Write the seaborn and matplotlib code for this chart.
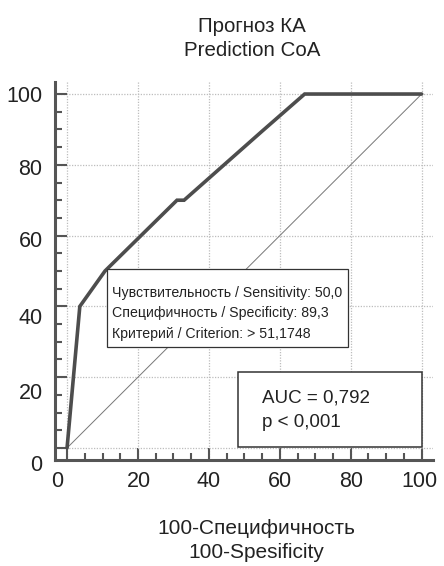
import matplotlib
matplotlib.use("Agg")
import matplotlib.pyplot as plt
import matplotlib.transforms as mtransforms
import seaborn as sns
import pandas as pd
from matplotlib.ticker import MultipleLocator, FixedLocator
from matplotlib.patches import Rectangle

# ROC curve vertices (100 - specificity, sensitivity), in percent
fpr = [0.0, 3.6, 10.7, 31.0, 33.0, 55.0, 67.0, 100.0]
tpr = [0.0, 40.0, 50.0, 70.0, 70.0, 89.5, 100.0, 100.0]
chance_x = [0, 100]
chance_y = [0, 100]
tick_values = [0, 20, 40, 60, 80, 100]

title_lines = ["Прогноз КА", "Prediction CoA"]
xlabel_lines = ["100-Специфичность", "100-Spesificity"]

# optimal cut-off point
sensitivity = 50.0
specificity = 89.3
criterion = 51.1748
auc_value = 0.792
p_label = "p < 0,001"

# small per-label nudges of the tick labels (pixels, down / left)
ytick_label_drop = [15, 14, 10, 3, 2.5, 0]
xtick_label_shift = [-9.5, 1, 0, 0, 0, -2]


def comma(v, nd):
    return f"{v:.{nd}f}".replace(".", ",")


sns.set_theme(style="white")
plt.rcParams["font.family"] = ["Liberation Sans", "DejaVu Sans"]

DARK = "#555555"
TEXT = "#222222"

fig = plt.figure(figsize=(4.44, 5.66), dpi=100)
ax = fig.add_axes([55 / 444, 1 - 460 / 566, (433 - 55) / 444, (460 - 82) / 566])

roc = pd.DataFrame({"fpr": fpr, "tpr": tpr})
ref = pd.DataFrame({"x": chance_x, "y": chance_y})

sns.lineplot(data=ref, x="x", y="y", ax=ax, color="#777777", lw=0.7,
             sort=False, estimator=None, zorder=2)
sns.lineplot(data=roc, x="fpr", y="tpr", ax=ax, color="#4d4d4d", lw=2.6,
             sort=False, estimator=None, zorder=3, solid_joinstyle="miter")

ax.set_xlim(-3.4, 103.2)
ax.set_ylim(-3.4, 103.4)

for axis in (ax.xaxis, ax.yaxis):
    axis.set_major_locator(FixedLocator(tick_values))
    axis.set_minor_locator(MultipleLocator(5))

ax.tick_params(which="both", left=True, bottom=True, direction="in", color=DARK)
ax.tick_params(which="major", length=8.6, width=1.5, labelsize=15.5, labelcolor=TEXT)
ax.tick_params(which="minor", length=5, width=1.5)
ax.tick_params(axis="y", pad=9)
ax.tick_params(axis="x", pad=8)

ax.grid(True, which="major", ls=(0, (1, 1.2)), color="#bdbdbd", lw=0.9, zorder=0)
ax.set_axisbelow(True)

for side in ("top", "right"):
    ax.spines[side].set_visible(False)
for side in ("left", "bottom"):
    ax.spines[side].set_color(DARK)
    ax.spines[side].set_linewidth(2.2)

ax.set_xlabel("")
ax.set_ylabel("")

px = 1 / fig.dpi  # one pixel in inches
for lab, dy in zip(ax.get_yticklabels(), ytick_label_drop):
    lab.set_transform(lab.get_transform() +
                      mtransforms.ScaledTranslation(0, -dy * px, fig.dpi_scale_trans))
for lab, dx in zip(ax.get_xticklabels(), xtick_label_shift):
    lab.set_transform(lab.get_transform() +
                      mtransforms.ScaledTranslation(dx * px, 0, fig.dpi_scale_trans))

# cut-off annotation, box corner on the curve point
cut_x = 100 - specificity
ax.add_patch(Rectangle((cut_x + 0.5, sensitivity + 0.5), 68.0, -21.9, fc="white",
                       ec="#333333", lw=0.9, zorder=4))
cut_text = (f"Чувствительность / Sensitivity: {comma(sensitivity, 1)}\n"
            f"Специфичность / Specificity: {comma(specificity, 1)}\n"
            f"Критерий / Criterion: > {comma(criterion, 4)}")
ax.text(12.7, 38.1, cut_text, ha="left", va="center", fontsize=10.2,
        color=TEXT, linespacing=1.6, zorder=5)

# AUC box
ax.add_patch(Rectangle((48.2, 0.3), 51.8, 21.2, fc="white", ec="#333333",
                       lw=1.1, zorder=4))
ax.text(54.9, 14.1, f"AUC = {comma(auc_value, 3)}", fontsize=13.5, color=TEXT,
        va="center", ha="left", zorder=5)
ax.text(54.9, 7.3, p_label, fontsize=13.5, color=TEXT, va="center", ha="left", zorder=5)

fig.text(252 / 444, 1 - 38.5 / 566, "\n".join(title_lines), ha="center", va="center",
         fontsize=14.8, color=TEXT, linespacing=1.3)
fig.text(256 / 444, 1 - 540.5 / 566, "\n".join(xlabel_lines), ha="center", va="center",
         fontsize=15, color=TEXT, linespacing=1.28)

fig.savefig("out.png", dpi=100)
